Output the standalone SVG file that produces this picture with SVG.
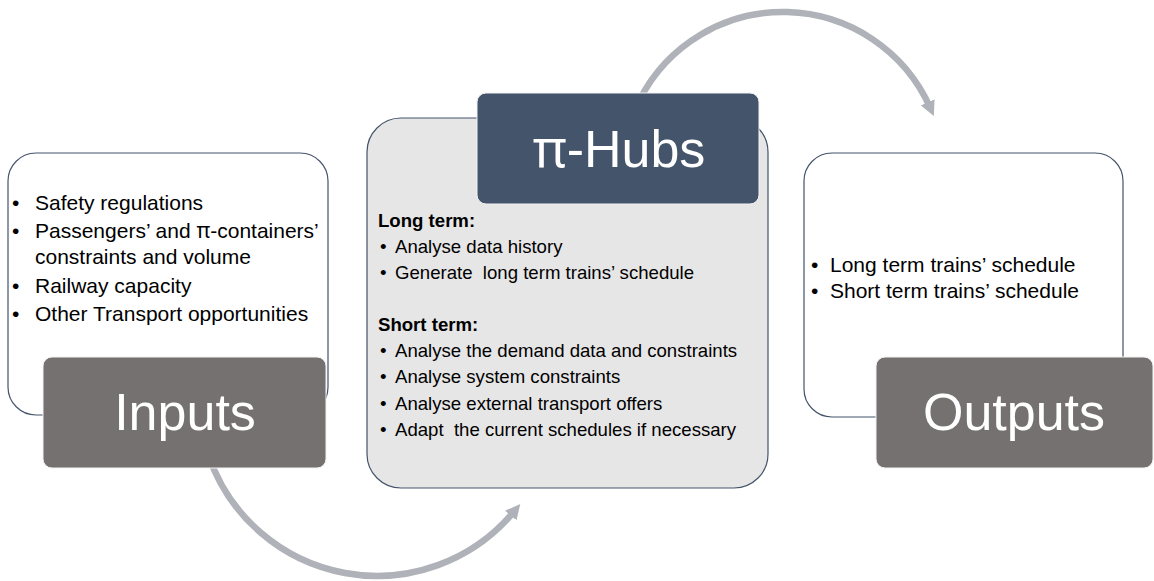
<svg xmlns="http://www.w3.org/2000/svg" width="1154" height="581" viewBox="0 0 1154 581">
  <style>
    .panel { stroke: #44546A; stroke-width: 1.2; }
    .panel-white { fill: #FFFFFF; }
    .panel-grey { fill: #E7E6E6; }
    .tag { stroke: #F2F2F2; stroke-width: 1; }
    .tag-grey { fill: #767171; }
    .tag-blue { fill: #44546A; }
    .title { font-family: "Liberation Sans", Arial, sans-serif; font-size: 52px; fill: #FFFFFF; text-anchor: middle; }
    .pi { font-family: "Noto Sans", "DejaVu Sans", sans-serif; }
    .item { font-family: "Liberation Sans", Arial, sans-serif; fill: #000000; }
    .big { font-size: 21px; }
    .small { font-size: 18.6px; }
    .bold { font-weight: bold; }
    .flow { fill: none; stroke: #B0B2B9; stroke-width: 6.5; }
  </style>
  <defs>
    <marker id="head" viewBox="0 0 16 16" refX="6" refY="8" markerWidth="15" markerHeight="15" markerUnits="userSpaceOnUse" orient="auto">
      <path d="M0,0 L16,8 L0,16 z" fill="#B0B2B9"/>
    </marker>
  </defs>

  <!-- curved flow arrows, drawn beneath the panels -->
  <g id="connectors">
    <path class="flow" d="M208.4,455 A178,178 0 0 0 514.3,511.2" marker-end="url(#head)"/>
    <path class="flow" d="M639.5,100 A161,161 0 0 1 930,107.4" marker-end="url(#head)"/>
  </g>

  <!-- Inputs -->
  <g id="inputs">
    <rect class="panel panel-white" x="8" y="153" width="320" height="262" rx="28"/>
    <text class="item big" x="12" y="210">•</text>
    <text class="item big" x="35" y="210">Safety regulations</text>
    <text class="item big" x="12" y="238">•</text>
    <text class="item big" x="35" y="238">Passengers’ and <tspan class="pi">π</tspan>-containers’</text>
    <text class="item big" x="35" y="264">constraints and volume</text>
    <text class="item big" x="12" y="293">•</text>
    <text class="item big" x="35" y="293">Railway capacity</text>
    <text class="item big" x="12" y="321">•</text>
    <text class="item big" x="35" y="321">Other Transport opportunities</text>
    <rect class="tag tag-grey" x="43" y="357" width="283" height="111" rx="9"/>
    <text class="title" x="185" y="430">Inputs</text>
  </g>

  <!-- π-Hubs -->
  <g id="hubs">
    <rect class="panel panel-grey" x="367" y="118" width="401" height="370" rx="34"/>
    <rect class="tag tag-blue" x="477" y="93" width="282" height="111" rx="9"/>
    <text class="title" x="619" y="167"><tspan class="pi">π</tspan>-Hubs</text>
    <text class="item small bold" x="378" y="227">Long term:</text>
    <text class="item small" x="380" y="253">•</text>
    <text class="item small" x="395" y="253">Analyse data history</text>
    <text class="item small" x="380" y="279">•</text>
    <text class="item small" x="395" y="279" xml:space="preserve">Generate  long term trains’ schedule</text>
    <text class="item small bold" x="378" y="331">Short term:</text>
    <text class="item small" x="380" y="357">•</text>
    <text class="item small" x="395" y="357">Analyse the demand data and constraints</text>
    <text class="item small" x="380" y="383">•</text>
    <text class="item small" x="395" y="383">Analyse system constraints</text>
    <text class="item small" x="380" y="410">•</text>
    <text class="item small" x="395" y="410">Analyse external transport offers</text>
    <text class="item small" x="380" y="436">•</text>
    <text class="item small" x="395" y="436" xml:space="preserve">Adapt  the current schedules if necessary</text>
  </g>

  <!-- Outputs -->
  <g id="outputs">
    <rect class="panel panel-white" x="804" y="153" width="319" height="264" rx="28"/>
    <text class="item big" x="811" y="272">•</text>
    <text class="item big" x="830" y="272">Long term trains’ schedule</text>
    <text class="item big" x="811" y="298">•</text>
    <text class="item big" x="830" y="298">Short term trains’ schedule</text>
    <rect class="tag tag-grey" x="876" y="357" width="277" height="111" rx="9"/>
    <text class="title" x="1014" y="430">Outputs</text>
  </g>
</svg>
